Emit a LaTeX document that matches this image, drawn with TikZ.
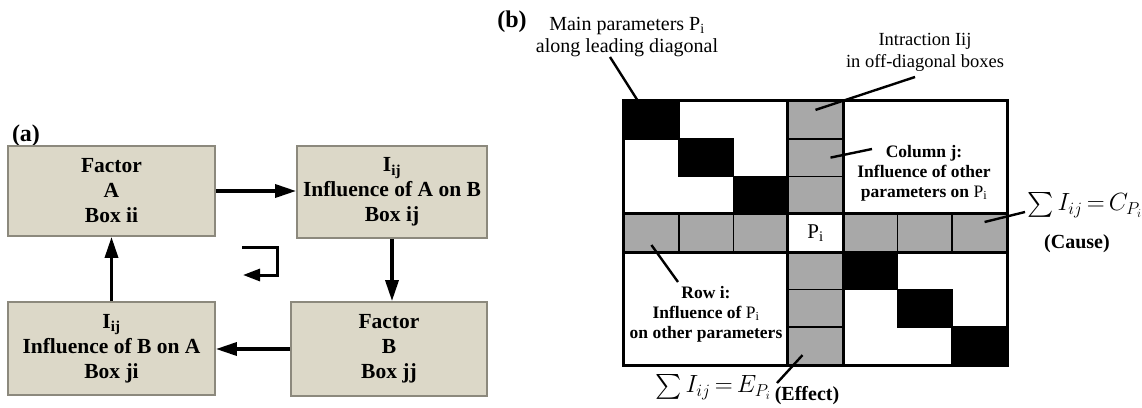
\documentclass[tikz,border=0pt]{standalone}
\usepackage{amsmath}
\usepackage{exscale}
\usepackage{fontspec}
\setmainfont{Liberation Serif}
\usetikzlibrary{arrows.meta,positioning}
\definecolor{boxfill}{RGB}{220,216,200}
\definecolor{boxline}{RGB}{140,137,125}
\definecolor{cellgray}{RGB}{168,168,168}

\begin{document}
\begin{tikzpicture}[x=1pt, y=-1pt,
  fbox/.style={draw=boxline, fill=boxfill, line width=1.8pt, align=center, inner sep=0, font=\fontsize{21.5}{25}\selectfont\bfseries},
  flow/.style={line width=3.4pt, -{Triangle[length=21pt,width=13pt]}},
  gcell/.style={draw, line width=1.8pt, fill=cellgray, minimum width=54.7pt, minimum height=37.7pt, inner sep=0},
  bcell/.style={gcell, fill=black},
  wcell/.style={gcell, fill=white},
  leader/.style={line width=2.4pt},
  note/.style={align=center, inner sep=0, font=\fontsize{20}{22}\selectfont},
  txt/.style={align=center, inner sep=0, font=\fontsize{17.5}{20}\selectfont\bfseries},
  sumtxt/.style={inner sep=0, font=\fontsize{23.5}{28}\selectfont},
  tag/.style={inner sep=0, font=\fontsize{24}{28}\selectfont\bfseries}]
\useasboundingbox (0,0) rectangle (1142,407);
% (a) flow of influence
\node[tag] (lbla) at (26,136) {(a)};
\node[fbox, minimum width=207pt, minimum height=90pt] (A) at (111.5,191) {Factor\\A\\Box ii};
\node[fbox, minimum width=190pt, minimum height=92pt] (AB) at (392,192) {I\textsubscript{ij}\\Influence of A on B\\Box ij};
\node[fbox, minimum width=196pt, minimum height=94pt] (B) at (389,349) {Factor\\B\\Box jj};
\node[fbox, minimum width=207pt, minimum height=93pt] (BA) at (111.5,348.5) {I\textsubscript{ij}\\Influence of B on A\\Box ji};
\draw[flow] (A.east) -- (A.east -| AB.west);
\draw[flow] (AB.south) -- (AB.south |- B.north);
\draw[flow] (B.west) -- (B.west -| BA.east);
\draw[flow] (BA.north) -- (BA.north |- A.south);
\coordinate (r1) at (242,247);
\coordinate (r2) at (277,247);
\coordinate (r3) at (277,275);
\coordinate (r4) at (243,275);
\draw[line width=3pt, -{Triangle[length=17pt,width=12pt]}] (r1) -- (r2) -- (r3) -- (r4);
% (b) influence matrix
\node[tag] (lblb) at (512,22) {(b)};
\fill[white] (624,101) rectangle (1007,365);
\node[bcell] (c11) at (651.4,119.9) {};
\node[bcell] (c22) at (706.1,157.6) {};
\node[bcell] (c33) at (760.8,195.3) {};
\node[bcell] (c55) at (870.2,270.7) {};
\node[bcell] (c66) at (924.9,308.4) {};
\node[bcell] (c77) at (979.6,346.1) {};
\node[gcell] (c14) at (815.5,119.9) {};
\node[gcell] (c24) at (815.5,157.6) {};
\node[gcell] (c34) at (815.5,195.3) {};
\node[gcell] (c54) at (815.5,270.7) {};
\node[gcell] (c64) at (815.5,308.4) {};
\node[gcell] (c74) at (815.5,346.1) {};
\node[gcell] (c41) at (651.4,233.0) {};
\node[gcell] (c42) at (706.1,233.0) {};
\node[gcell] (c43) at (760.8,233.0) {};
\node[gcell] (c45) at (870.2,233.0) {};
\node[gcell] (c46) at (924.9,233.0) {};
\node[gcell] (c47) at (979.6,233.0) {};
\node[wcell, font=\fontsize{21}{24}\selectfont] (c44) at (815.5,233.0) {$\mathrm{P}_{\mathrm{i}}$};
\draw[line width=3pt] (c11.north west) rectangle (c77.south east);
\draw[line width=3pt] (c14.north west) -- (c74.south west);
\draw[line width=3pt] (c14.north east) -- (c74.south east);
\draw[line width=3pt] (c41.north west) -- (c47.north east);
\draw[line width=3pt] (c41.south west) -- (c47.south east);
% labels round the matrix
\node[note] (mp) at (627,37) {Main parameters $\mathrm{P}_{\mathrm{i}}$\\along leading diagonal};
\node[note, font=\fontsize{18.5}{22}\selectfont] (ia) at (925,52) {Intraction Iij\\in off-diagonal boxes};
\node[txt] (cj) at (924,173) {Column j:\\Influence of other\\parameters on $\mathrm{P}_{\mathrm{i}}$};
\node[txt] (rw) at (706,314) {Row i:\\Influence of $\mathrm{P}_{\mathrm{i}}$\\on other parameters};
\node[sumtxt, anchor=west] (sc) at (1027,205) {$\sum I_{ij}\,{=}\,C_{P_i}$};
\node[inner sep=0, font=\fontsize{20}{24}\selectfont\bfseries] (cause) at (1077,244) {(Cause)};
\node[sumtxt, anchor=west] (se) at (655,387) {$\sum I_{ij}\,{=}\,E_{P_i}$};
\node[inner sep=0, font=\fontsize{20}{24}\selectfont\bfseries] (eff) at (807,396) {(Effect)};
\coordinate (mpend) at (610,57);
\coordinate (iaend) at (915,77);
\coordinate (cjend) at (872,149);
\coordinate (rwend) at (678,282);
\coordinate (scend) at (1025,212);
\coordinate (seend) at (777,383);
\draw[leader] (mpend) -- ([xshift=-14pt]c11.north);
\draw[leader] (iaend) -- ([yshift=10pt]c14.center);
\draw[leader] (cjend) -- ([xshift=15pt]c24.center);
\draw[leader] (rwend) -- ([yshift=-12pt]c41.center);
\draw[leader] (scend) -- ([xshift=5pt,yshift=11pt]c47.center);
\draw[leader] (seend) -- ([xshift=-13pt,yshift=-9pt]c74.center);
\end{tikzpicture}
\end{document}
